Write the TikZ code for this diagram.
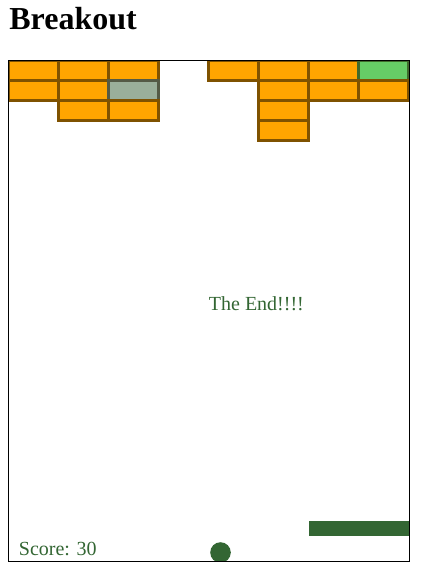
\documentclass[tikz,border=0pt]{standalone}
\usepackage{fontspec}
\setmainfont{Liberation Serif}
\usepackage{tikz}
\usetikzlibrary{positioning}

\definecolor{brickfill}{HTML}{FFA500}
\definecolor{brickline}{HTML}{7F5200}
\definecolor{hitfill}{HTML}{66CC66}
\definecolor{hitline}{HTML}{3F6A2C}
\definecolor{greyfill}{HTML}{9AAF9A}
\definecolor{greyline}{HTML}{545A45}
\definecolor{gamegreen}{HTML}{336633}

\begin{document}
\begin{tikzpicture}[x=1pt, y=-1pt, thick,
	brick/.style={fill=brickfill, draw=brickline, line width=3.5pt},
	hit/.style={fill=hitfill, draw=hitline, line width=3.5pt},
	grey/.style={fill=greyfill, draw=greyline, line width=3.5pt},
	label/.style={anchor=base west, inner sep=0pt, text=gamegreen, font=\fontsize{20}{24}\selectfont}]
	\useasboundingbox (0,0) rectangle (436,586);

	\node (title) [anchor=base west, inner sep=0pt, font=\fontsize{32}{38}\selectfont\bfseries] at (9,30) {Breakout};

	\begin{scope}[shift={(8.5,60.5)}]
		\begin{scope}
			\clip (0,0) rectangle (401,501);
			% bricks still standing: column/row/style
			\foreach \c/\r/\s in {0/0/brick, 1/0/brick, 2/0/brick, 4/0/brick, 5/0/brick, 6/0/brick, 7/0/hit,
				0/1/brick, 1/1/brick, 2/1/grey, 5/1/brick, 6/1/brick, 7/1/brick,
				1/2/brick, 2/2/brick, 5/2/brick, 5/3/brick}
				\draw [\s] (50*\c, 20*\r) rectangle ++(50,20);
			\fill [gamegreen] (300,460) rectangle (401,475);
			\fill [gamegreen] (212,492) circle (10.3);
		\end{scope}
		\draw [thin, black] (0,0) rectangle (401,501);
		\node (score) [label] at (10,495) {Score: 30};
		\node (theend) [label] at (200,250) {The End!!!!};
	\end{scope}
\end{tikzpicture}
\end{document}
